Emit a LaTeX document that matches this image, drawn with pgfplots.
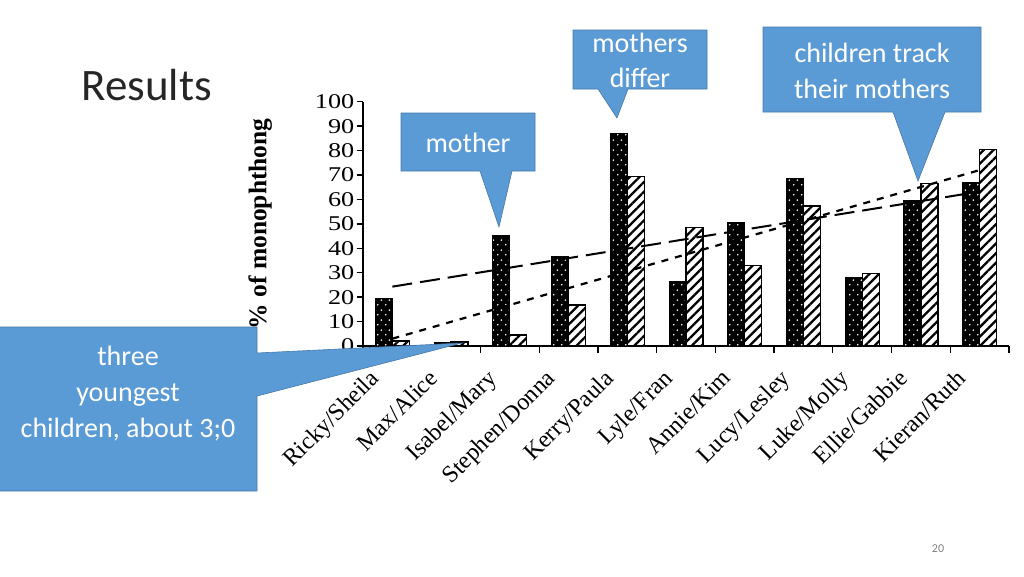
\documentclass[border=0pt]{standalone}
\usepackage{fontspec}
\setmainfont{Liberation Serif}
\newfontfamily\calibri{Carlito}
\usepackage{graphicx}
\usepackage{pgfplots}
\pgfplotsset{compat=1.18}
\usetikzlibrary{patterns,patterns.meta}
\definecolor{callout}{RGB}{91,155,213}
\definecolor{calloutborder}{RGB}{70,120,170}

\tikzdeclarepattern{
  name=sparsedots, type=uncolored,
  bottom left={(0pt,0pt)}, top right={(8pt,10pt)}, tile size={(8pt,10pt)},
  code={\fill (2pt,2.5pt) circle (1pt); \fill (6pt,7.5pt) circle (1pt);}
}

\begin{document}
\begin{tikzpicture}
\fill[white] (0pt,0pt) rectangle (1024pt,-576pt);
\path[use as bounding box] (0pt,0pt) rectangle (1024pt,-576pt);
\begin{axis}[
  at={(363pt,-346pt)}, anchor=south west,
  scale only axis, width=646pt, height=244.3pt,
  xmin=-0.5, xmax=10.5, ymin=0, ymax=100,
  axis lines*=left,
  axis line style={line width=1.5pt},
  tick align=outside,
  major tick length=6.5pt,
  tick style={black, line width=1.3pt},
  ytick={0,10,...,100},
  /pgf/number format/assume math mode=true,
  yticklabel={\scalebox{1.25}[1]{\pgfmathprintnumber{\tick}}},
  yticklabel style={font=\fontsize{21}{21}\selectfont, inner sep=2pt},
  xtick={-0.5,0.5,...,10.5},
  x tick label as interval,
  xticklabels={Ricky/Sheila, Max/Alice, Isabel/Mary, Stephen/Donna, Kerry/Paula, Lyle/Fran, Annie/Kim, Lucy/Lesley, Luke/Molly, Ellie/Gabbie, Kieran/Ruth},
  xticklabel style={font=\fontsize{24}{24}\selectfont, xshift=-24pt, yshift=-14pt, rotate=45, anchor=north east, inner sep=1pt},
  ylabel={\% of monophthong},
  ylabel style={font=\bfseries\fontsize{25.5}{25.5}\selectfont, at={(axis description cs:-0.159,0.5)}, anchor=center},
  clip=false,
]
\addplot[ybar, bar width=17pt, bar shift=-8.5pt, draw=black, line width=1pt, fill=black,
  postaction={pattern=sparsedots, pattern color=white}]
  coordinates {(0,19.5) (1,1.6) (2,45.4) (3,36.6) (4,86.8) (5,26.3) (6,50.6) (7,68.6) (8,28) (9,59.4) (10,66.9)};
\addplot[ybar, bar width=17pt, bar shift=8.5pt, draw=black, line width=1.3pt, fill=white,
  postaction={pattern={Lines[angle=45,distance=6.8pt,line width=2.3pt]}}]
  coordinates {(0,2) (1,1.6) (2,4.5) (3,16.8) (4,69.3) (5,48.6) (6,32.9) (7,57.3) (8,29.7) (9,66.6) (10,80.5)};
\addplot[black, line width=2pt, dash pattern=on 20pt off 8pt] coordinates {(0,24.3) (10,63.2)};
\addplot[black, line width=2.2pt, dash pattern=on 7pt off 7pt] coordinates {(0,3) (10,72)};
\end{axis}
\begin{scope}[x=1pt,y=-1pt]
\node[anchor=base west, font=\calibri\fontsize{45}{45}\selectfont, text=black!85] at (78,100) {Results};
\node[font=\calibri\fontsize{12}{12}\selectfont, text=black!50] at (938,549) {20};
% mothers differ
\filldraw[fill=callout, draw=calloutborder, line width=0.6pt] (573,30) -- (707,30) -- (707,89) -- (628,89) -- (617,118) -- (598,89) -- (573,89) -- cycle;
\node[anchor=base, text=white, font=\calibri\fontsize{28}{28}\selectfont] at (640,52) {mothers};
\node[anchor=base, text=white, font=\calibri\fontsize{28}{28}\selectfont] at (640,87) {differ};
% children track
\filldraw[fill=callout, draw=calloutborder, line width=0.6pt] (763,27) -- (981,27) -- (981,112) -- (945,112) -- (918,181) -- (893,112) -- (763,112) -- cycle;
\node[anchor=base, text=white, font=\calibri\fontsize{28}{28}\selectfont] at (872,62) {children track};
\node[anchor=base, text=white, font=\calibri\fontsize{28}{28}\selectfont] at (872,98) {their mothers};
% mother
\filldraw[fill=callout, draw=calloutborder, line width=0.6pt] (401,113) -- (535,113) -- (535,171) -- (512,171) -- (499,227) -- (480,171) -- (401,171) -- cycle;
\node[anchor=base, text=white, font=\calibri\fontsize{28}{28}\selectfont] at (468,152) {mother};
% three youngest
\filldraw[fill=callout, draw=calloutborder, line width=0.6pt] (-2,327) -- (257,327) -- (257,353) -- (462,343) -- (257,396) -- (257,491) -- (-2,491) -- cycle;
\node[anchor=base, text=white, font=\calibri\fontsize{28}{28}\selectfont] at (128,365) {three};
\node[anchor=base, text=white, font=\calibri\fontsize{28}{28}\selectfont] at (128,401) {youngest};
\node[anchor=base, text=white, font=\calibri\fontsize{28}{28}\selectfont] at (128,437) {children, about 3;0};
\end{scope}
\end{tikzpicture}
\end{document}
